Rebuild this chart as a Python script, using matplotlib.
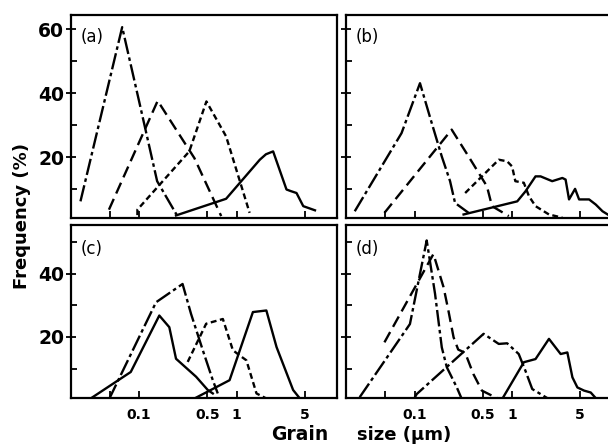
import matplotlib.pyplot as plt
from matplotlib.ticker import NullLocator, FixedLocator

plt.rcParams['font.family'] = ['DejaVu Sans']

# grain size (um) / frequency (%)
# panel (a)
a1_x = [0.025, 0.067, 0.10, 0.153, 0.247]
a1_y = [6.3, 60.7, 37.5, 12.6, 1.7]
a2_x = [0.049, 0.155, 0.369, 0.695]
a2_y = [3.7, 37.7, 19.8, 1.7]
a3_x = [0.096, 0.096, 0.327, 0.49, 0.78, 1.36]
a3_y = [2.0, 3.7, 21.9, 37.5, 26.6, 2.7]
a4_x = [0.239, 0.78, 1.73, 2.0, 2.37, 3.25, 3.6, 4.12, 4.83, 6.37]
a4_y = [1.9, 7.1, 19.3, 21.0, 21.9, 10.0, 9.5, 8.9, 4.8, 3.5]

# panel (b)
b1_x = [0.0243, 0.0734, 0.1135, 0.15, 0.19, 0.231, 0.26, 0.358]
b1_y = [3.2, 27.6, 43.2, 30.7, 20.3, 12.6, 5.8, 2.7]
b2_x = [0.049, 0.24, 0.358, 0.552, 0.622, 0.925]
b2_y = [2.7, 28.7, 20.3, 11.0, 4.8, 1.7]
b3_x = [0.33, 0.73, 0.89, 1.0, 1.08, 1.32, 1.49, 1.74, 2.39, 3.28]
b3_y = [8.9, 19.3, 18.8, 17.2, 12.6, 12.1, 7.9, 4.8, 2.2, 1.2]
b4_x = [0.318, 1.13, 1.37, 1.74, 1.96, 2.58, 3.28, 3.54, 3.84, 4.43, 4.87,
        6.17, 7.22, 8.47, 9.93]
b4_y = [2.2, 6.3, 9.4, 14.1, 14.1, 12.6, 13.6, 13.1, 6.9, 10.2, 6.9,
        6.9, 5.3, 3.2, 1.9]

# panel (c)
c1_x = [0.0318, 0.082, 0.161, 0.204, 0.239, 0.384, 0.506, 0.57]
c1_y = [0.5, 8.9, 26.8, 23.1, 13.1, 7.4, 3.2, 2.1]
c2_x = [0.049, 0.149, 0.279, 0.341, 0.45, 0.57, 0.641]
c2_y = [0.2, 31.0, 36.8, 27.3, 15.8, 6.3, 2.1]
c3_x = [0.315, 0.487, 0.723, 0.916, 1.07, 1.26, 1.6, 2.02]
c3_y = [12.1, 24.2, 25.7, 15.8, 14.2, 12.6, 2.1, 0.5]
c4_x = [0.354, 0.847, 1.47, 2.02, 2.57, 3.8, 4.46]
c4_y = [0.2, 6.3, 27.9, 28.4, 16.8, 3.2, 0.5]

# panel (d)
d1_x = [0.0273, 0.0895, 0.133, 0.162, 0.19, 0.214, 0.271, 0.305]
d1_y = [0.9, 24.1, 50.6, 33.7, 16.7, 10.4, 4.0, 0.3]
d2_x = [0.049, 0.156, 0.198, 0.222, 0.251, 0.28, 0.33, 0.40, 0.49, 0.67, 0.79]
d2_y = [18.3, 46.3, 35.8, 28.4, 19.9, 16.0, 15.0, 8.3, 3.0, 0.9, 0.0]
d3_x = [0.097, 0.105, 0.51, 0.73, 0.89, 1.17, 1.37, 1.61, 2.39]
d3_y = [0.0, 1.9, 21.0, 17.8, 18.0, 14.6, 9.3, 3.5, 0.3]
d4_x = [0.79, 1.32, 1.74, 2.39, 3.15, 3.69, 4.16, 4.68, 5.48, 6.41, 7.52]
d4_y = [0.3, 12.0, 13.0, 19.4, 14.6, 15.1, 7.2, 4.0, 3.0, 2.4, 0.0]

xticks = [0.05, 0.1, 0.5, 1, 5]
xtick_labels = ['', '0.1', '0.5', '1', '5']

dashdot = (0, (7, 1.5, 1.5, 1.5))
longdash = (0, (5, 2.5))
shortdash = (0, (2.5, 1.5))
solid = '-'

fig = plt.figure(figsize=(6.08, 4.45), dpi=100)
W = 0.4367
ax_a = fig.add_axes([0.1168, 0.5094, W, 0.4569])
ax_b = fig.add_axes([0.5699, 0.5094, W, 0.4569])
ax_c = fig.add_axes([0.1168, 0.1045, W, 0.3899])
ax_d = fig.add_axes([0.5699, 0.1045, W, 0.3899])


def setup(ax, top, tag, xlab, ylab):
    ax.set_xscale('log')
    ax.set_xlim(0.02, 10.6)
    ax.xaxis.set_major_locator(FixedLocator(xticks))
    ax.xaxis.set_minor_locator(NullLocator())
    if top:
        ax.set_ylim(1.0, 64.5)
        ax.set_yticks([20, 40, 60])
        ty = 0.935
    else:
        ax.set_ylim(0.5, 55.5)
        ax.set_yticks([20, 40])
        ty = 0.915
    ax.yaxis.set_minor_locator(FixedLocator([10, 30, 50]))
    if xlab:
        ax.set_xticklabels(xtick_labels)
    else:
        ax.set_xticklabels([])
    if not ylab:
        ax.set_yticklabels([])
    ax.tick_params(axis='x', which='major', direction='in', length=5,
                   width=1.3, pad=7, labelsize=10)
    ax.tick_params(axis='y', which='major', direction='inout', length=7,
                   width=1.3, pad=1.5, labelsize=13.5)
    ax.tick_params(axis='y', which='minor', direction='in', length=4,
                   width=1.3)
    for lab in ax.get_xticklabels() + ax.get_yticklabels():
        lab.set_fontweight('bold')
    for s in ax.spines.values():
        s.set_linewidth(1.6)
    ax.text(0.035, ty, tag, transform=ax.transAxes, fontsize=12,
            ha='left', va='top')


lw = 1.7
ax_a.plot(a1_x, a1_y, color='k', lw=lw, ls=dashdot)
ax_a.plot(a2_x, a2_y, color='k', lw=lw, ls=longdash)
ax_a.plot(a3_x, a3_y, color='k', lw=lw, ls=shortdash)
ax_a.plot(a4_x, a4_y, color='k', lw=lw, ls=solid)

ax_b.plot(b1_x, b1_y, color='k', lw=lw, ls=dashdot)
ax_b.plot(b2_x, b2_y, color='k', lw=lw, ls=longdash)
ax_b.plot(b3_x, b3_y, color='k', lw=lw, ls=shortdash)
ax_b.plot(b4_x, b4_y, color='k', lw=lw, ls=solid)

ax_c.plot(c1_x, c1_y, color='k', lw=lw, ls=solid)
ax_c.plot(c2_x, c2_y, color='k', lw=lw, ls=dashdot)
ax_c.plot(c3_x, c3_y, color='k', lw=lw, ls=shortdash)
ax_c.plot(c4_x, c4_y, color='k', lw=lw, ls=solid)

ax_d.plot(d1_x, d1_y, color='k', lw=lw, ls=dashdot)
ax_d.plot(d2_x, d2_y, color='k', lw=lw, ls=longdash)
ax_d.plot(d3_x, d3_y, color='k', lw=lw, ls=dashdot)
ax_d.plot(d4_x, d4_y, color='k', lw=lw, ls=solid)

setup(ax_a, True, '(a)', False, True)
setup(ax_b, True, '(b)', False, False)
setup(ax_c, False, '(c)', True, True)
setup(ax_d, False, '(d)', True, False)

fig.text(22 / 608, 1 - 216 / 445, 'Frequency (%)', rotation=90,
         fontsize=13, fontweight='bold', ha='center', va='center')
fig.text(300 / 608, 0.012, 'Grain', fontsize=13.5, fontweight='bold',
         ha='center', va='baseline')
fig.text(357 / 608, 0.012, 'size (\u00b5m)', fontsize=13, fontweight='bold',
         ha='left', va='baseline')

fig.savefig('out.png', dpi=100)
